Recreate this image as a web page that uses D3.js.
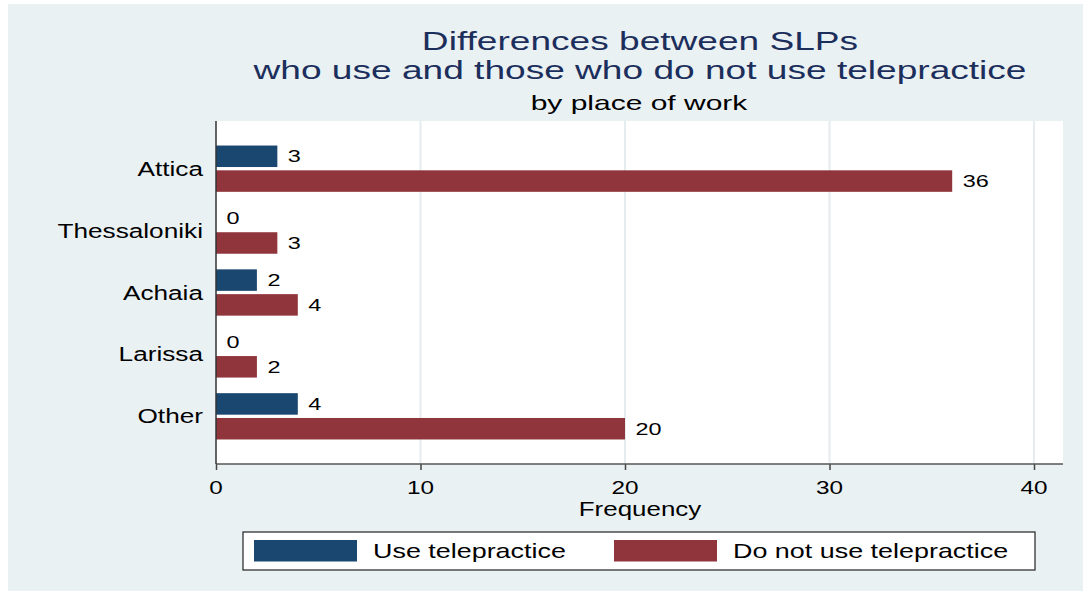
<!DOCTYPE html>
<html>
<head>
<meta charset="utf-8">
<script src="https://cdn.jsdelivr.net/npm/d3@7"></script>
<style>
  body { margin: 0; background: #fff; }
  text { font-family: "Liberation Sans", Arial, sans-serif; }
</style>
</head>
<body>
<div id="chart"></div>
<script>
// chart data
var categories = ["Attica", "Thessaloniki", "Achaia", "Larissa", "Other"];
var useTele = [3, 0, 2, 0, 4];
var notUseTele = [36, 3, 4, 2, 20];
var seriesNames = ["Use telepractice", "Do not use telepractice"];
var xTicks = [0, 10, 20, 30, 40];

var W = 1083, H = 591;
var plot = {left: 216, right: 1063, top: 121, bottom: 464};
var colors = ["#1a476f", "#90353b"];

var svg = d3.select("#chart").append("svg")
    .attr("width", W)
    .attr("height", H);

// outer background
svg.append("rect")
    .attr("x", 8).attr("y", 4)
    .attr("width", W - 8).attr("height", H - 4)
    .attr("fill", "#eaf1f3");

// plot region
svg.append("rect")
    .attr("x", plot.left).attr("y", plot.top)
    .attr("width", plot.right - plot.left)
    .attr("height", plot.bottom - plot.top)
    .attr("fill", "#fff");

// the original image is stretched sideways, so text gets a horizontal scale
function label(x, y, txt, size, sx, anchor, fill) {
    return svg.append("text")
        .attr("transform", "translate(" + x + "," + y + ") scale(" + sx + ",1)")
        .attr("text-anchor", anchor || "start")
        .style("font-size", size + "px")
        .attr("fill", fill || "#000")
        .text(txt);
}

var x = d3.scaleLinear().domain([0, 40]).range([plot.left, 1034]);
var y = d3.scaleBand().domain(categories)
    .range([plot.top, plot.bottom])
    .paddingInner(0).paddingOuter(0.27);
var ySub = d3.scaleBand().domain(seriesNames)
    .range([0, y.bandwidth()])
    .paddingInner(0.133).paddingOuter(0.315);

// gridlines
svg.append("g")
    .selectAll("line")
    .data(xTicks.filter(function(d) { return d > 0; }))
    .enter().append("line")
    .attr("x1", function(d) { return x(d); })
    .attr("x2", function(d) { return x(d); })
    .attr("y1", plot.top).attr("y2", plot.bottom)
    .attr("stroke", "#e4ecef")
    .attr("stroke-width", 2);

// bars
var rows = categories.map(function(c, i) {
    return {cat: c, values: [useTele[i], notUseTele[i]]};
});

rows.forEach(function(row) {
    row.values.forEach(function(v, j) {
        var y0 = y(row.cat) + ySub(seriesNames[j]);
        if (v > 0) {
            svg.append("rect")
                .attr("x", x(0))
                .attr("y", y0)
                .attr("width", x(v) - x(0))
                .attr("height", ySub.bandwidth())
                .attr("fill", colors[j]);
        }
        label(x(v) + 10.5, y0 + ySub.bandwidth() / 2 + 6, String(v), 16.5, 1.42, "start");
    });
});

// x axis
var xAxis = d3.axisBottom(x).tickValues(xTicks).tickSize(6).tickFormat("");
var gx = svg.append("g")
    .attr("transform", "translate(0," + plot.bottom + ")")
    .call(xAxis);
gx.select(".domain").remove();
gx.selectAll(".tick line").attr("stroke", "#444").attr("stroke-width", 1.5);
svg.append("line")
    .attr("x1", plot.left).attr("x2", plot.right)
    .attr("y1", plot.bottom).attr("y2", plot.bottom)
    .attr("stroke", "#555").attr("stroke-width", 1.5);
xTicks.forEach(function(t) {
    label(x(t), 494, String(t), 18, 1.35, "middle");
});
label((plot.left + plot.right) / 2 + 0.5, 516, "Frequency", 19.5, 1.33, "middle");

// y axis
svg.append("line")
    .attr("x1", plot.left).attr("x2", plot.left)
    .attr("y1", plot.top).attr("y2", plot.bottom)
    .attr("stroke", "#333").attr("stroke-width", 1.5);
categories.forEach(function(c) {
    label(203, y(c) + y.bandwidth() / 2 + 7, c, 20, 1.31, "end");
});

// titles
label(640, 50, "Differences between SLPs", 26.5, 1.4, "middle", "#1c2f5c");
label(640, 79, "who use and those who do not use telepractice", 26.5, 1.4, "middle", "#1c2f5c");
label(639, 110, "by place of work", 20, 1.5, "middle", "#000");

// legend
svg.append("rect")
    .attr("x", 243).attr("y", 532)
    .attr("width", 792).attr("height", 38)
    .attr("fill", "#fff")
    .attr("stroke", "#222").attr("stroke-width", 1.2);
var legendX = [254, 614];
seriesNames.forEach(function(s, j) {
    svg.append("rect")
        .attr("x", legendX[j]).attr("y", 540)
        .attr("width", 103).attr("height", 21.5)
        .attr("fill", colors[j]);
    label(legendX[j] + 119, 558, s, 20.7, 1.3, "start");
});
</script>
</body>
</html>
